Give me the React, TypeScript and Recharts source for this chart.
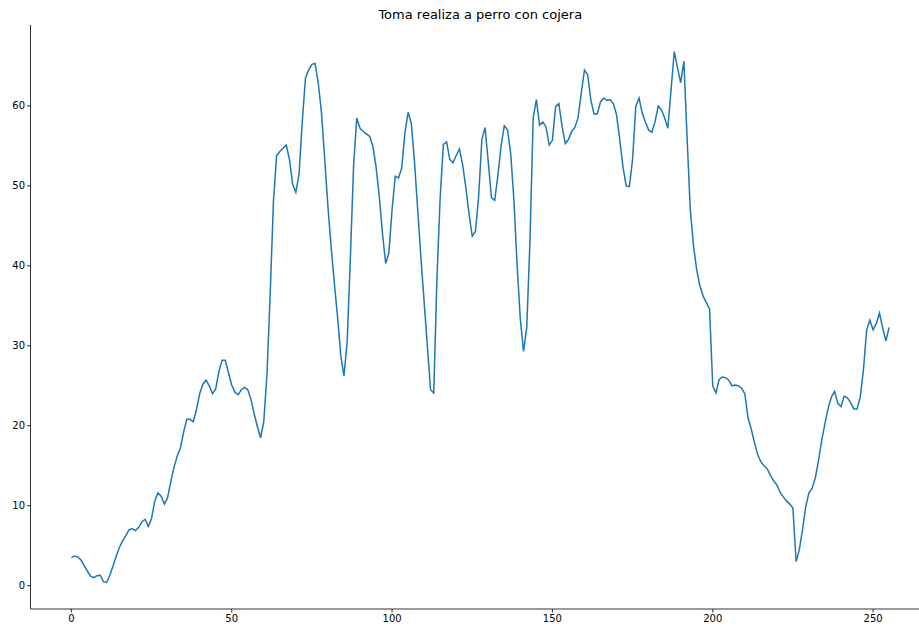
import { LineChart, Line, XAxis, YAxis } from "recharts";

// values, one per frame (x = 0..255)
const signal = [
  3.5, 3.7, 3.6, 3.2, 2.5, 1.8, 1.2, 1.0, 1.25, 1.3,
  0.5, 0.4, 1.3, 2.5, 3.7, 4.8, 5.6, 6.3, 7.0, 7.1,
  6.9, 7.3, 8.0, 8.3, 7.4, 8.4, 10.6, 11.6, 11.2, 10.2,
  11.0, 13.0, 14.8, 16.2, 17.2, 19.2, 20.8, 20.8, 20.5, 22.0,
  24.0, 25.2, 25.7, 25.0, 24.0, 24.6, 26.8, 28.2, 28.2, 26.6,
  25.1, 24.2, 23.9, 24.5, 24.8, 24.5, 23.3, 21.5, 19.9, 18.5,
  20.5, 26.5, 36.5, 48.0, 53.8, 54.3, 54.7, 55.1, 53.3, 50.2,
  49.2, 51.5, 58.0, 63.5, 64.5, 65.2, 65.3, 62.8, 59.1, 53.3,
  47.4, 42.4, 37.8, 33.6, 28.8, 26.2, 30.5, 41.0, 52.5, 58.5,
  57.2, 56.8, 56.5, 56.2, 55.0, 52.4, 48.7, 44.1, 40.3, 41.6,
  47.0, 51.2, 51.0, 52.2, 56.6, 59.2, 57.8, 53.0, 47.0, 41.0,
  35.5, 30.0, 24.5, 24.1, 38.5, 48.5, 55.2, 55.5, 53.3, 52.9,
  53.8, 54.6, 52.7, 49.8, 46.5, 43.7, 44.3, 48.7, 55.8, 57.3,
  53.0, 48.5, 48.2, 51.3, 55.0, 57.5, 57.0, 54.0, 48.2, 40.0,
  33.3, 29.3, 32.3, 43.0, 58.5, 60.8, 57.6, 58.0, 57.4, 55.1,
  55.7, 59.9, 60.3, 57.5, 55.3, 55.8, 56.8, 57.3, 58.5, 61.6,
  64.5, 63.9, 60.7, 59.0, 59.0, 60.5, 61.0, 60.7, 60.8, 60.3,
  58.9, 55.8, 52.4, 50.0, 49.9, 53.3, 59.9, 61.0, 59.1, 58.0,
  57.0, 56.7, 58.0, 60.0, 59.5, 58.5, 57.2, 62.0, 66.8, 64.8,
  62.9, 65.6, 56.0, 47.0, 42.5, 39.5, 37.5, 36.2, 35.4, 34.6,
  25.0, 24.1, 25.8, 26.1, 26.0, 25.7, 25.0, 25.1, 25.0, 24.7,
  24.0, 21.0, 19.6, 17.9, 16.4, 15.5, 15.0, 14.6, 13.8, 13.1,
  12.6, 11.7, 11.1, 10.6, 10.2, 9.7, 3.0, 4.5, 7.0, 9.9,
  11.6, 12.2, 13.5, 15.7, 18.2, 20.3, 22.2, 23.6, 24.3, 22.8,
  22.4, 23.7, 23.5, 22.9, 22.1, 22.1, 23.6, 27.0, 32.0, 33.2,
  32.0, 32.8, 34.1, 32.2, 30.6, 32.3,
];

const xTicks = [0, 50, 100, 150, 200, 250];
const yTicks = [0, 10, 20, 30, 40, 50, 60];
const title = "Toma realiza a perro con cojera";

const data = signal.map((v, i) => ({ x: i, y: v }));

// matplotlib-style 5% margins
const pad = (lo: number, hi: number): [number, number] => {
  const m = (hi - lo) * 0.05;
  return [lo - m, hi + m];
};
const xDomain = pad(0, signal.length - 1);
const yDomain = pad(Math.min(...signal), Math.max(...signal));

const font = "'DejaVu Sans', sans-serif";
const tickStyle = { fill: "#000", fontSize: 10, fontFamily: font };
const spine = { stroke: "#000", strokeWidth: 0.8 };

export default function App() {
  return (
    <div
      style={{
        position: "fixed",
        left: 0,
        top: 0,
        width: 919,
        height: 630,
        overflow: "hidden",
        background: "#fff",
      }}
    >
      <div
        style={{
          position: "absolute",
          top: 7,
          left: 30.5,
          width: 899.5,
          textAlign: "center",
          fontFamily: font,
          fontSize: 13,
          lineHeight: "15px",
          color: "#000",
        }}
      >
        {title}
      </div>
      <LineChart
        width={940}
        height={630}
        data={data}
        margin={{ top: 25, right: 10, bottom: 0, left: 0.5 }}
      >
        <XAxis
          dataKey="x"
          type="number"
          domain={xDomain}
          ticks={xTicks}
          allowDataOverflow
          height={21}
          tickSize={3.5}
          tickMargin={2}
          tick={tickStyle}
          axisLine={spine}
          tickLine={spine}
        />
        <XAxis
          xAxisId="top"
          orientation="top"
          dataKey="x"
          type="number"
          domain={xDomain}
          allowDataOverflow
          height={0}
          tick={false}
          tickLine={false}
          axisLine={spine}
        />
        <YAxis
          type="number"
          domain={yDomain}
          ticks={yTicks}
          allowDataOverflow
          width={30}
          tickSize={3.5}
          tickMargin={2}
          tick={tickStyle}
          axisLine={spine}
          tickLine={spine}
        />
        <Line
          dataKey="y"
          type="linear"
          stroke="#1f77b4"
          strokeWidth={1.5}
          dot={false}
          isAnimationActive={false}
        />
      </LineChart>
    </div>
  );
}
